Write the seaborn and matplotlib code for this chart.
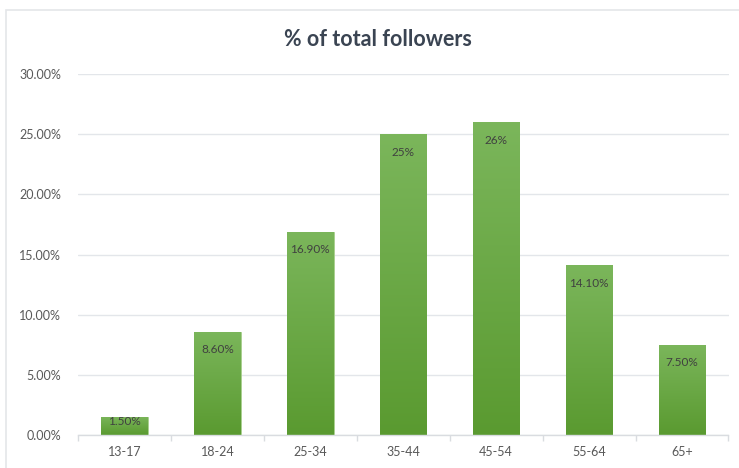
import numpy as np
import pandas as pd
import matplotlib
matplotlib.use("Agg")
import matplotlib.pyplot as plt
import seaborn as sns
from matplotlib.patches import Rectangle
from matplotlib.colors import LinearSegmentedColormap

categories = ["13-17", "18-24", "25-34", "35-44", "45-54", "55-64", "65+"]
values = [1.5, 8.6, 16.9, 25.0, 26.0, 14.1, 7.5]
value_labels = ["1.50%", "8.60%", "16.90%", "25%", "26%", "14.10%", "7.50%"]
y_ticks = [0, 5, 10, 15, 20, 25, 30]
y_tick_labels = ["0.00%", "5.00%", "10.00%", "15.00%", "20.00%", "25.00%", "30.00%"]
title = "% of total followers"

sns.set_theme(style="white")
plt.rcParams["font.family"] = ["Lato", "DejaVu Sans"]

fig = plt.figure(figsize=(7.39, 4.68), dpi=100)
ax = fig.add_axes([78 / 739, 1 - 435 / 468, (728.5 - 78) / 739, (435 - 74) / 468])

df = pd.DataFrame({"age": categories, "pct": values})
sns.barplot(data=df, x="age", y="pct", color="#6aaa45", width=0.5, ax=ax,
            saturation=1, edgecolor="#a9d08e", linewidth=0.6)

cmap = LinearSegmentedColormap.from_list("g", ["#5a9a30", "#7bb65b"])
grad = np.linspace(0, 1, 256).reshape(-1, 1)
for p in ax.patches:
    x0, y0 = p.get_x(), p.get_y()
    w, h = p.get_width(), p.get_height()
    im = ax.imshow(grad, cmap=cmap, origin="lower", aspect="auto",
                   extent=[x0, x0 + w, y0, y0 + h], zorder=p.get_zorder() + 0.1)
    im.set_clip_path(p)

ax.set_xlim(-0.5, len(categories) - 0.5)
ax.set_ylim(0, 30)
ax.set_yticks(y_ticks)
ax.set_yticklabels(y_tick_labels)
ax.set_xlabel("")
ax.set_ylabel("")
ax.grid(axis="y", color="#e3e6ea", linewidth=1.0)
ax.set_axisbelow(True)
for s in ["top", "right", "left"]:
    ax.spines[s].set_visible(False)
ax.spines["bottom"].set_color("#d9dce0")
ax.spines["bottom"].set_linewidth(1.0)
ax.tick_params(axis="y", length=0, pad=12, labelsize=9, labelcolor="#595959")
ax.tick_params(axis="x", length=0, pad=8, labelsize=9, labelcolor="#595959")
ax.set_xticks(np.arange(-0.5, len(categories) + 0.5), minor=True)
ax.tick_params(axis="x", which="minor", length=4, color="#d9dce0", width=1, direction="out", bottom=True)

for i, (v, lab) in enumerate(zip(values, value_labels)):
    hpx = v * (361 / 30)
    off = -13 if hpx > 36 else -3
    ax.annotate(lab, (i, v), xytext=(0, off), textcoords="offset points",
                ha="center", va="center", fontsize=8.5, color="#404040", zorder=5)

fig.text(378 / 739, 1 - 40 / 468, title, ha="center", va="center",
         fontsize=15.5, fontweight="bold", color="#3a4452")

fig.patches.append(Rectangle((6 / 739, -0.1), 1.2, 1.1 - 10 / 468, transform=fig.transFigure,
                             fill=False, edgecolor="#e4e6e9", linewidth=1.2, zorder=-1))

fig.savefig("out.png", dpi=100)
